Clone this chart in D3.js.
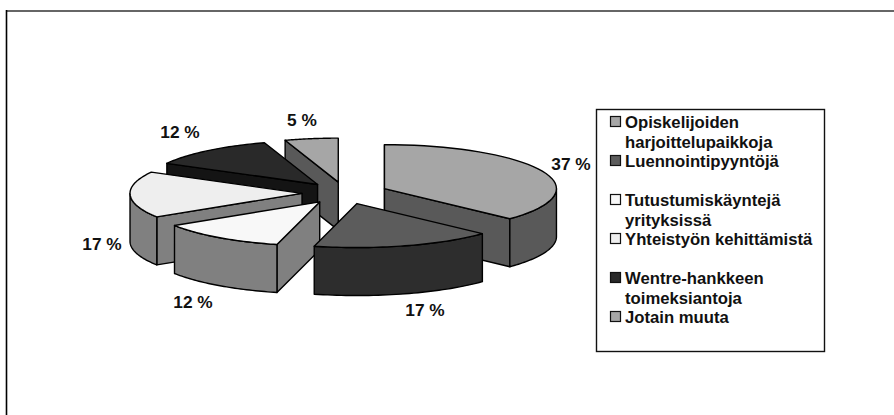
<!DOCTYPE html>
<html>
<head>
<meta charset="utf-8">
<script src="https://cdn.jsdelivr.net/npm/d3@7/dist/d3.min.js"></script>
<style>html,body{margin:0;padding:0;background:#fff}svg{display:block}text{font-family:"Liberation Sans",Arial,sans-serif;font-weight:700;fill:#111}</style>
</head>
<body>
<svg id="c" width="894" height="415"></svg>
<script>
const categories = ["Opiskelijoiden harjoittelupaikkoja","Luennointipyyntöjä","Tutustumiskäyntejä yrityksissä","Yhteistyön kehittämistä","Wentre-hankkeen toimeksiantoja","Jotain muuta"];
const values = [37,17,12,17,12,5];
const valueLabels = ["37 %","17 %","12 %","17 %","12 %","5 %"];
const legendLines = [["Opiskelijoiden","harjoittelupaikkoja"],["Luennointipyyntöjä"],["Tutustumiskäyntejä","yrityksissä"],["Yhteistyön kehittämistä"],["Wentre-hankkeen","toimeksiantoja"],["Jotain muuta"]];
const topColors = ["#a6a6a6","#5c5c5c","#f8f8f8","#eeeeee","#292929","#a6a6a6"];
const sideColors = ["#595959","#2d2d2d","#808080","#808080","#141414","#595959"];

// layout
const cx=345, cy=193, rx=172, ry=44, depth=48, explode=0.25;
const labelPos=[[571,164],[425,310],[193,302],[102,244],[180,132],[302,120]];
const legendRows=[121.7,161,200,239,277.7,316.7];
const svg=d3.select("#c");

svg.append("line").attr("x1",6).attr("x2",894).attr("y1",11).attr("y2",11).attr("stroke","#666").attr("stroke-width",2);
svg.append("line").attr("x1",6.5).attr("x2",6.5).attr("y1",10).attr("y2",415).attr("stroke","#000").attr("stroke-width",1.6);

const pie=d3.pie().sort(null).startAngle(0).endAngle(2*Math.PI);
const arcs=pie(values);
const lineGen=d3.line();
function slice(d){
  const mid=(d.startAngle+d.endAngle)/2;
  const ax=cx+explode*rx*Math.sin(mid), ay=cy-explode*ry*Math.cos(mid);
  const pt=(t,dz=0)=>[ax+rx*Math.sin(t),ay-ry*Math.cos(t)+dz];
  const samples=(a,b,dz=0)=>d3.range(0,41).map(i=>pt(a+(b-a)*i/40,dz));
  return {ax,ay,pt,samples};
}
// painter's order: back slices first
const order=[5,4,3,2,0,1];
const g=svg.append("g").attr("stroke","#000").attr("stroke-width",1.4).attr("stroke-linejoin","round");
order.forEach(i=>{
  const d=arcs[i], s=slice(d), a=d.startAngle, b=d.endAngle;
  const side=sideColors[i];
  const cut=t=>g.append("path").attr("fill",side).attr("d",lineGen([[s.ax,s.ay],s.pt(t),s.pt(t,depth),[s.ax,s.ay+depth]])+"Z");
  if(Math.sin(a)<=0) cut(a);
  if(b<=Math.PI) cut(b);
  const w0=Math.max(a,Math.PI/2), w1=Math.min(b,3*Math.PI/2);
  if(w1>w0){
    g.append("path").attr("fill",side).attr("d",lineGen(s.samples(w0,w1).concat(s.samples(w1,w0,depth)))+"Z");
  }
  g.append("path").attr("fill",topColors[i]).attr("d",lineGen([[s.ax,s.ay]].concat(s.samples(a,b)))+"Z");
});

svg.append("g").selectAll("text").data(valueLabels).join("text")
  .attr("x",(d,i)=>labelPos[i][0]).attr("y",(d,i)=>labelPos[i][1]+6)
  .attr("text-anchor","middle").attr("font-size",17.3).text(d=>d);

svg.append("rect").attr("x",596.5).attr("y",109.5).attr("width",228).attr("height",242).attr("fill","#fff").attr("stroke","#111").attr("stroke-width",1.4);
const leg=svg.append("g").selectAll("g").data(categories).join("g");
leg.append("rect").attr("x",610.5).attr("y",(d,i)=>Math.round(legendRows[i])-5.5).attr("width",10).attr("height",10)
  .attr("fill",(d,i)=>topColors[i]).attr("stroke","#111").attr("stroke-width",1.2);
leg.each(function(d,i){
  const el=d3.select(this);
  legendLines[i].forEach((t,k)=>{
    el.append("text").attr("x",625).attr("y",legendRows[i]+6+k*20).attr("font-size",16.7).text(t);
  });
});
</script>
</body>
</html>
